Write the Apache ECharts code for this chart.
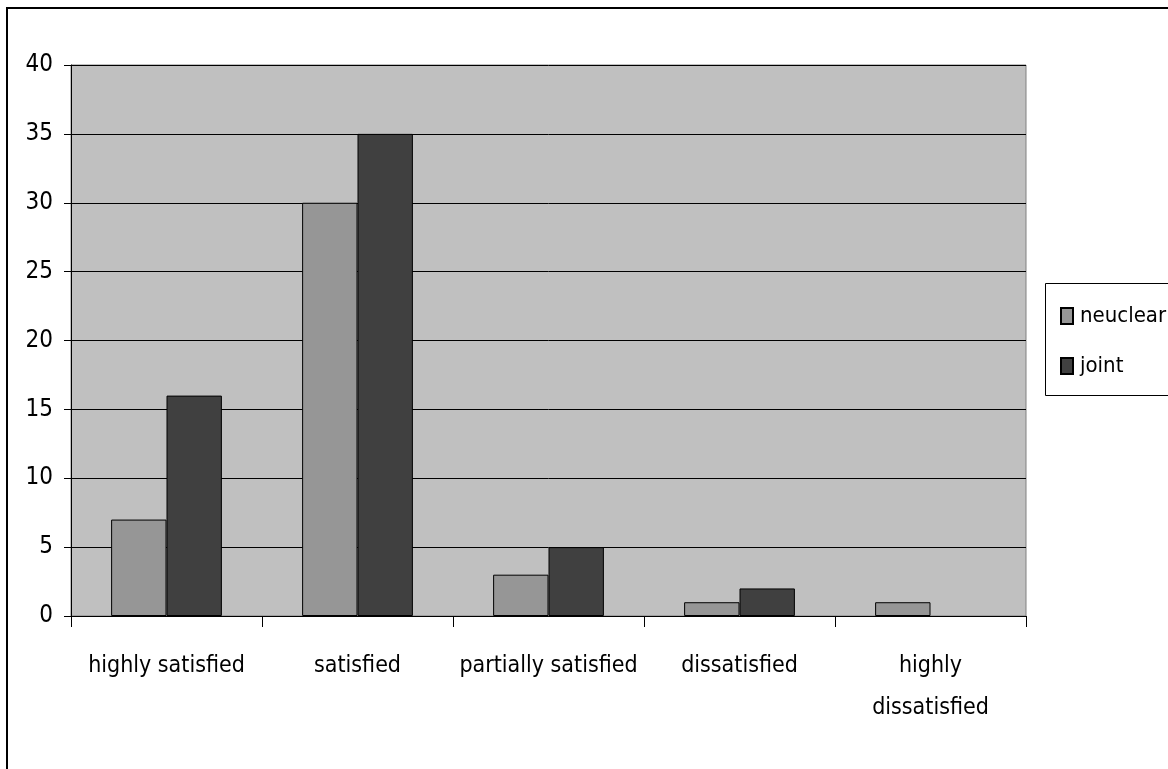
<!DOCTYPE html>
<html>
<head>
<meta charset="utf-8">
<script src="https://cdn.jsdelivr.net/npm/echarts@6/dist/echarts.min.js"></script>
<style>
  html, body { margin: 0; padding: 0; background: #ffffff; }
  #chart { width: 1168px; height: 769px; }
</style>
</head>
<body>
<div id="chart"></div>
<script>
// Satisfaction levels by family type
const categories = ['highly satisfied', 'satisfied', 'partially satisfied', 'dissatisfied', 'highly dissatisfied'];
const neuclear = [7, 30, 3, 1, 1];
const joint = [16, 35, 5, 2, 0];
const yTicks = [0, 5, 10, 15, 20, 25, 30, 35, 40];

const FONT = '"DejaVu Sans Condensed", "Liberation Sans", sans-serif';

// zero-height bars get no outline so nothing is drawn for them
function barData(values) {
  return values.map(function (v) {
    return v === 0 ? { value: v, itemStyle: { borderWidth: 0 } } : v;
  });
}

const chart = echarts.init(document.getElementById('chart'), null, { renderer: 'canvas' });

chart.setOption({
  backgroundColor: '#ffffff',
  animation: false,
  textStyle: { fontFamily: FONT, color: '#000' },
  graphic: [
    {
      type: 'rect',
      shape: { x: 7, y: 8, width: 1200, height: 800 },
      style: { fill: 'none', stroke: '#000', lineWidth: 2 },
      silent: true
    },
    {
      type: 'rect',
      shape: { x: 1045.5, y: 283.5, width: 160, height: 112 },
      style: { fill: '#fff', stroke: '#000', lineWidth: 1 },
      silent: true,
      z: 1
    }
  ],
  legend: {
    orient: 'vertical',
    left: 1055,
    top: 300,
    itemWidth: 12,
    itemHeight: 16,
    itemGap: 28,
    icon: 'rect',
    z: 5,
    textStyle: { fontFamily: FONT, fontSize: 22, color: '#000', padding: [0, 0, 0, 2] },
    data: ['neuclear', 'joint']
  },
  grid: {
    left: 71,
    top: 65,
    right: 142,
    bottom: 153,
    show: true,
    backgroundColor: '#c0c0c0',
    borderColor: '#808080',
    borderWidth: 1
  },
  xAxis: {
    type: 'category',
    data: categories,
    axisLine: { show: true, lineStyle: { color: '#000', width: 1 } },
    axisTick: { show: true, length: 11, inside: false, alignWithLabel: false, lineStyle: { color: '#000' } },
    axisLabel: {
      fontFamily: FONT,
      fontSize: 23,
      color: '#000',
      margin: 29,
      lineHeight: 42,
      interval: 0,
      formatter: function (v) { return v === 'highly dissatisfied' ? 'highly\ndissatisfied' : v; }
    }
  },
  yAxis: {
    type: 'value',
    min: yTicks[0],
    max: yTicks[yTicks.length - 1],
    interval: 5,
    axisLine: { show: true, lineStyle: { color: '#000', width: 1 } },
    axisTick: { show: true, length: 7, lineStyle: { color: '#000' } },
    axisLabel: { fontFamily: FONT, fontSize: 24, color: '#000', margin: 18 },
    splitLine: { show: true, lineStyle: { color: '#000', width: 1 } }
  },
  series: [
    {
      name: 'neuclear',
      type: 'bar',
      data: barData(neuclear),
      barGap: '0%',
      barCategoryGap: '42%',
      itemStyle: { color: '#969696', borderColor: '#000', borderWidth: 1 }
    },
    {
      name: 'joint',
      type: 'bar',
      data: barData(joint),
      barGap: '0%',
      barCategoryGap: '42%',
      itemStyle: { color: '#404040', borderColor: '#000', borderWidth: 1 }
    }
  ]
});
</script>
</body>
</html>
